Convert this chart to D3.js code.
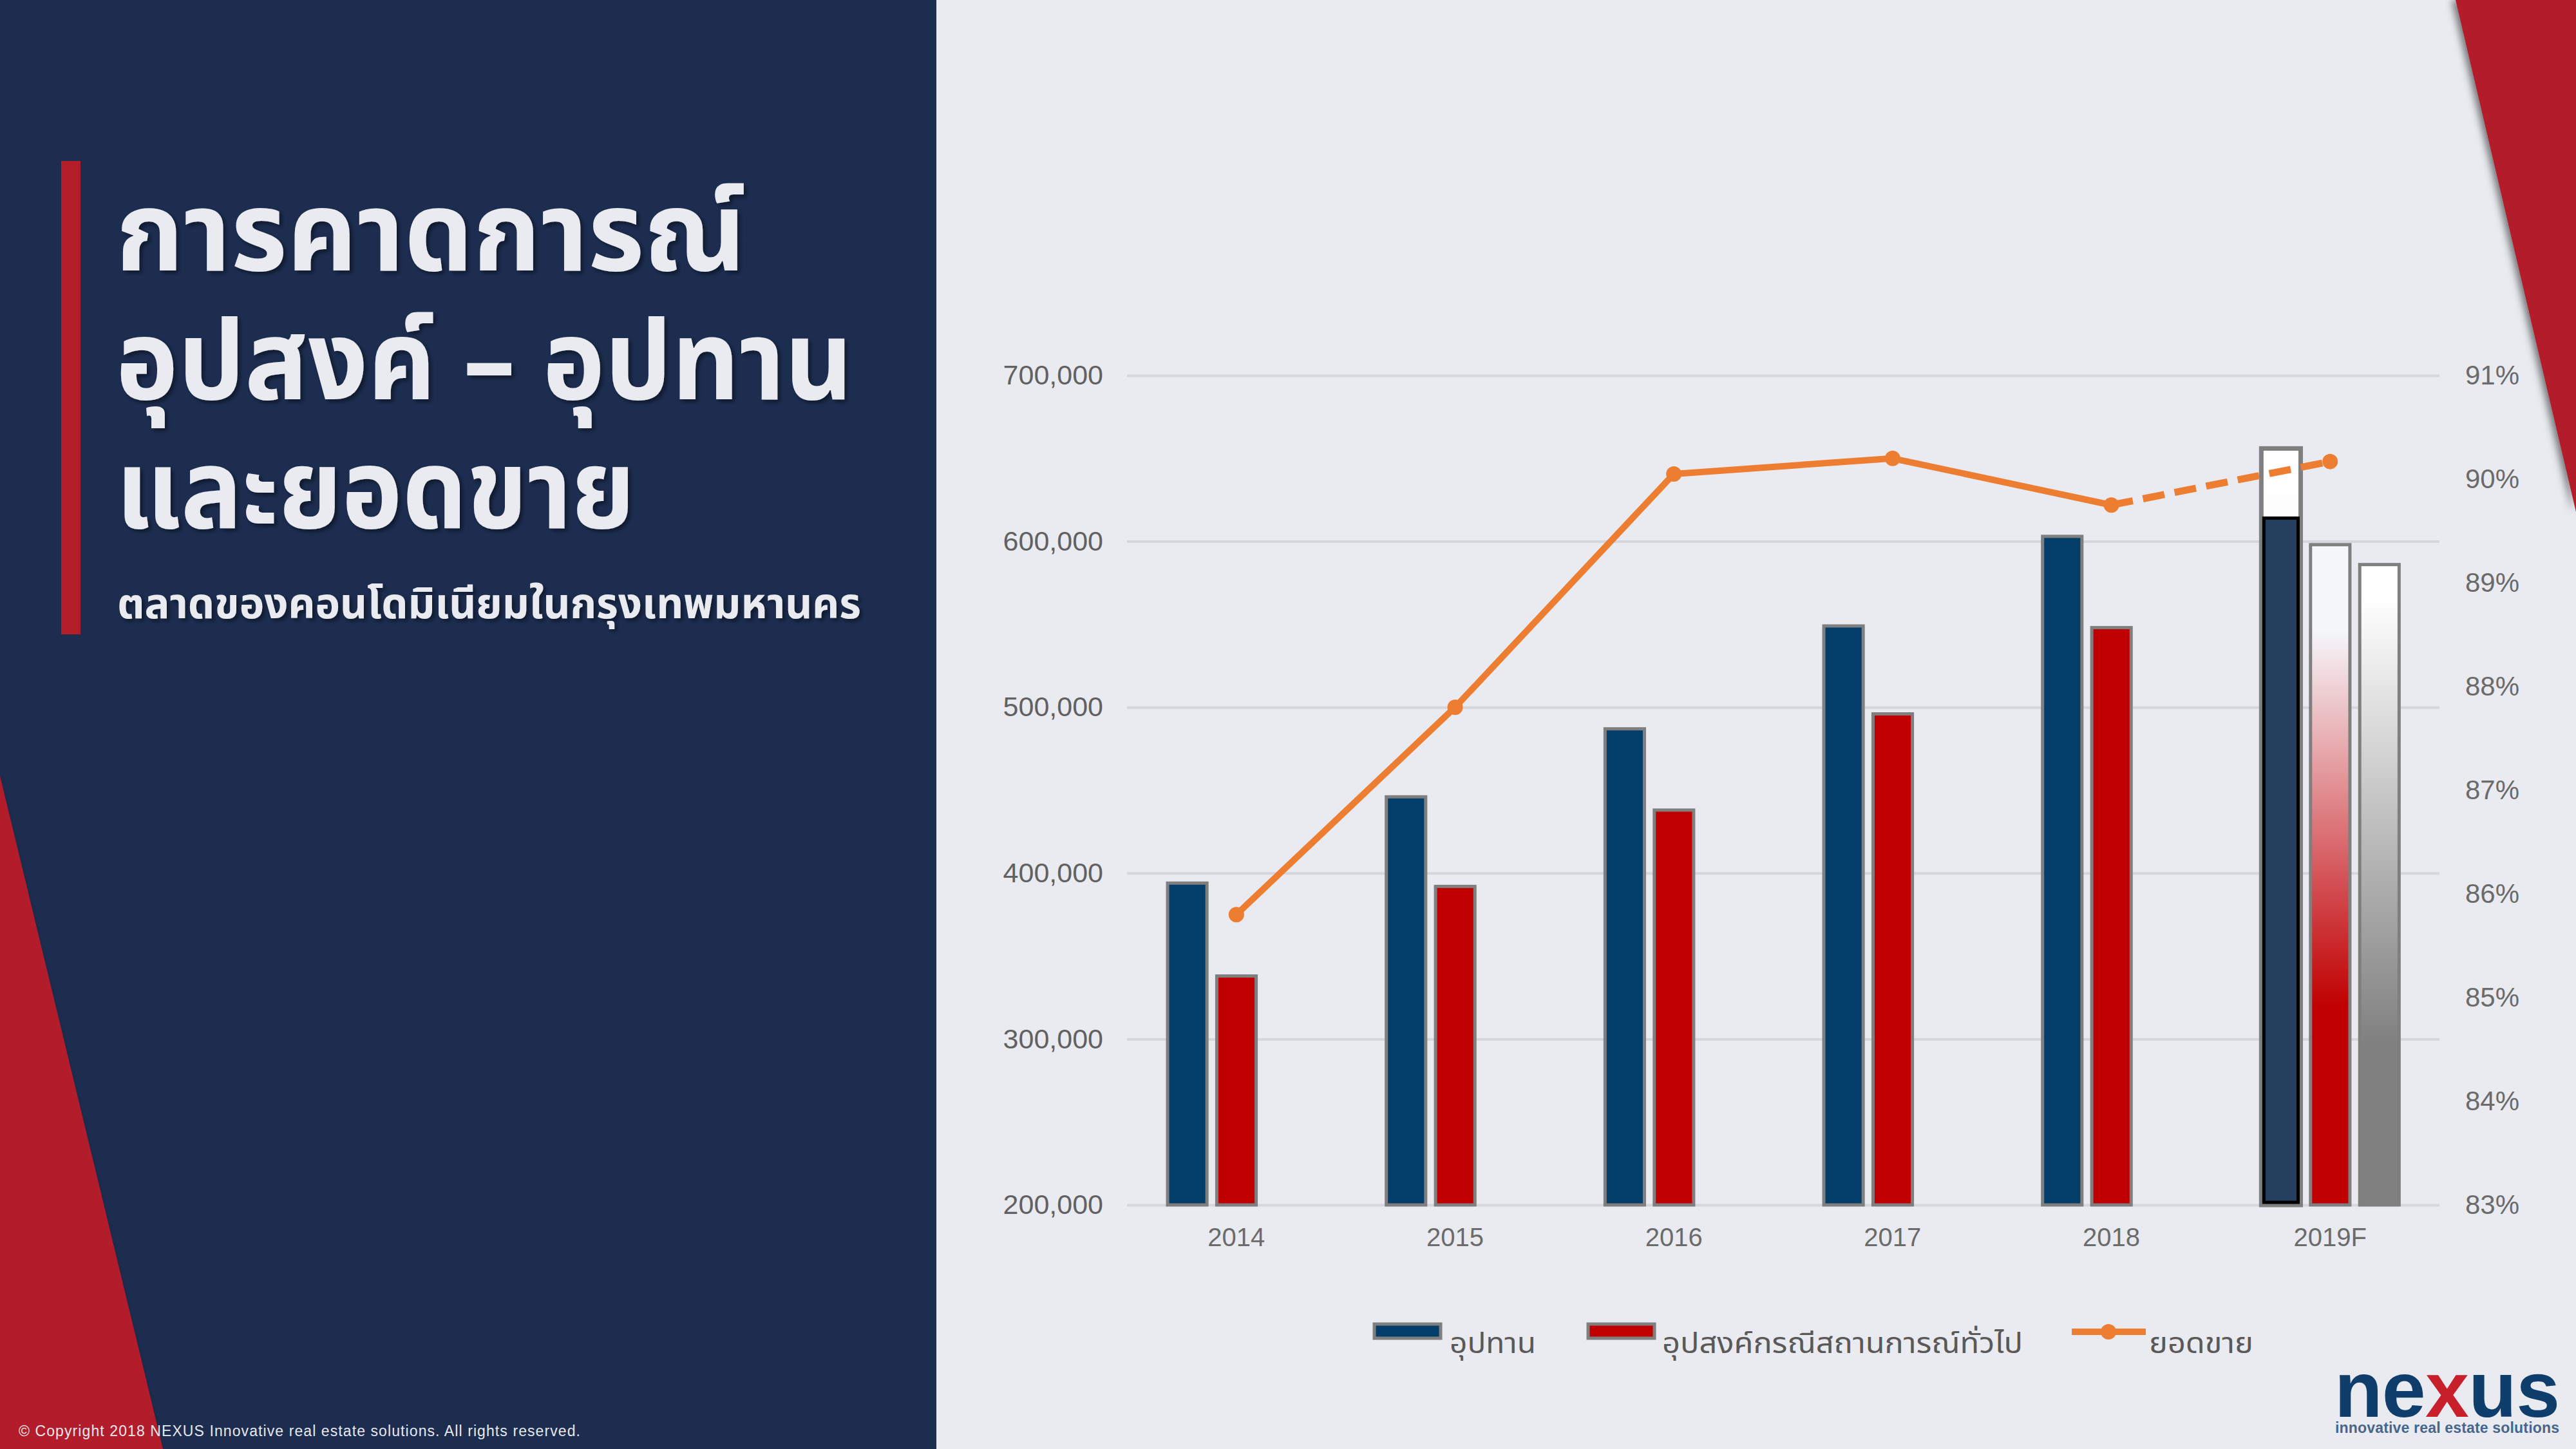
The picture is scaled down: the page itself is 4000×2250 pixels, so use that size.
<!DOCTYPE html>
<html>
<head>
<meta charset="utf-8">
<script src="https://cdn.jsdelivr.net/npm/d3@7"></script>
<style>
  html, body { margin: 0; padding: 0; background: #e9ebf0; }
  svg { display: block; }
</style>
</head>
<body>
<div id="chart"></div>
<script>
// data
const years = ['2014', '2015', '2016', '2017', '2018', '2019F'];
const supply = [394000, 446000, 487000, 549000, 603000, 614000];
const supplyHigh = [null, null, null, null, null, 656000];
const demand = [338000, 392000, 438000, 496000, 548000, 598000];
const demandLow = [null, null, null, null, null, 586000];
const salesRate = [85.8, 87.8, 90.05, 90.2, 89.75, 90.17];
const leftTicks = [200000, 300000, 400000, 500000, 600000, 700000];
const rightTicks = [83, 84, 85, 86, 87, 88, 89, 90, 91];
const legendLabels = ['อุปทาน', 'อุปสงค์กรณีสถานการณ์ทั่วไป', 'ยอดขาย'];
const titleLines = ['การคาดการณ์', 'อุปสงค์ – อุปทาน', 'และยอดขาย'];
const subtitle = 'ตลาดของคอนโดมิเนียมในกรุงเทพมหานคร';

const w = 4000;
const h = 2250;
const thai = '"Noto Sans Thai", "Noto Sans", "DejaVu Sans", sans-serif';
const navy = '#1c2d50';
const red = '#b31e29';

const svg = d3.select('#chart')
  .append('svg')
  .attr('width', w)
  .attr('height', h);

const defs = svg.append('defs');

const shadow = defs.append('filter').attr('id', 'txtShadow')
  .attr('x', '-5%').attr('y', '-5%').attr('width', '110%').attr('height', '120%');
shadow.append('feDropShadow')
  .attr('dx', 4).attr('dy', 4).attr('stdDeviation', 3)
  .attr('flood-color', '#000').attr('flood-opacity', 0.45);

const edgeShadow = defs.append('filter').attr('id', 'edgeShadow')
  .attr('x', '-20%').attr('y', '-20%').attr('width', '140%').attr('height', '140%');
edgeShadow.append('feDropShadow')
  .attr('dx', -6).attr('dy', 0).attr('stdDeviation', 6)
  .attr('flood-color', '#000').attr('flood-opacity', 0.5);

const redGrad = defs.append('linearGradient').attr('id', 'redGrad')
  .attr('x1', 0).attr('y1', 0).attr('x2', 0).attr('y2', 1);
[[0, '#f5f7fb'], [0.13, '#f5f7fb'], [0.32, '#e6a4a8'], [0.52, '#d24c50'], [0.7, '#c00000'], [1, '#c00000']]
  .forEach(s => redGrad.append('stop').attr('offset', s[0]).attr('stop-color', s[1]));

const greyGrad = defs.append('linearGradient').attr('id', 'greyGrad')
  .attr('x1', 0).attr('y1', 0).attr('x2', 0).attr('y2', 1);
[[0, '#ffffff'], [0.05, '#ffffff'], [0.75, '#808080'], [1, '#808080']]
  .forEach(s => greyGrad.append('stop').attr('offset', s[0]).attr('stop-color', s[1]));

const whiteGrad = defs.append('linearGradient').attr('id', 'whiteGrad')
  .attr('x1', 0).attr('y1', 0).attr('x2', 0).attr('y2', 1);
[[0, '#ffffff'], [1, '#e8ecf3']]
  .forEach(s => whiteGrad.append('stop').attr('offset', s[0]).attr('stop-color', s[1]));

// background panels
svg.append('rect').attr('width', w).attr('height', h).attr('fill', '#e9ebf0');
svg.append('rect').attr('width', 1454).attr('height', h).attr('fill', navy);
svg.append('path')
  .attr('d', 'M0,1205 L253,2250 L0,2250 Z')
  .attr('fill', red)
  .attr('filter', 'url(#edgeShadow)');
svg.append('path')
  .attr('d', 'M3813,0 L4000,0 L4000,795 Z')
  .attr('fill', red)
  .attr('filter', 'url(#edgeShadow)');

// title block
svg.append('rect').attr('x', 95).attr('y', 250).attr('width', 30).attr('height', 735).attr('fill', red);

const titleW = [978, 1144, 806];
const title = svg.append('text')
  .attr('fill', '#e9ebf0')
  .attr('filter', 'url(#txtShadow)')
  .style('font-family', thai)
  .style('font-weight', 700)
  .style('font-size', '172px');
title.selectAll('tspan')
  .data(titleLines)
  .enter()
  .append('tspan')
  .attr('x', 180)
  .attr('y', (d, i) => 420 + i * 200)
  .attr('textLength', (d, i) => titleW[i])
  .attr('lengthAdjust', 'spacingAndGlyphs')
  .text(d => d);

svg.append('text')
  .attr('x', 182)
  .attr('y', 960)
  .attr('fill', '#e9ebf0')
  .attr('filter', 'url(#txtShadow)')
  .attr('textLength', 1155)
  .attr('lengthAdjust', 'spacingAndGlyphs')
  .style('font-family', thai)
  .style('font-weight', 700)
  .style('font-size', '65px')
  .text(subtitle);

svg.append('text')
  .attr('x', 29)
  .attr('y', 2230)
  .attr('fill', '#e6e8ee')
  .attr('textLength', 872)
  .style('font-family', '"Liberation Sans", Arial, sans-serif')
  .style('font-size', '23px')
  .text('© Copyright 2018 NEXUS Innovative real estate solutions. All rights reserved.');

// chart
const plotLeft = 1750;
const plotRight = 3788;
const plotTop = 583;
const plotBottom = 1871;

const x0 = d3.scaleBand()
  .domain(years)
  .range([plotLeft, plotRight])
  .padding(0);

const x1 = d3.scaleBand()
  .domain(['supply', 'demand', 'low'])
  .range([63, 277])
  .paddingInner(0.2)
  .paddingOuter(0);

const yLeft = d3.scaleLinear()
  .domain([200000, 700000])
  .range([plotBottom, plotTop]);

const yRight = d3.scaleLinear()
  .domain([83, 91])
  .range([plotBottom, plotTop]);

const tickFont = '"Liberation Sans", Arial, sans-serif';

const yAxisL = d3.axisLeft(yLeft)
  .tickValues(leftTicks)
  .tickSize(-(plotRight - plotLeft))
  .tickPadding(37)
  .tickFormat(d3.format(','));

const gL = svg.append('g')
  .attr('id', 'y-axis')
  .attr('transform', 'translate(' + plotLeft + ',0)')
  .call(yAxisL);
gL.select('.domain').remove();
gL.selectAll('line').attr('stroke', '#d5d7dc').attr('stroke-width', 4);
gL.selectAll('text')
  .attr('fill', '#616161')
  .style('font-family', tickFont)
  .style('font-size', '43px');

const yAxisR = d3.axisRight(yRight)
  .tickValues(rightTicks)
  .tickSize(0)
  .tickPadding(40)
  .tickFormat(d => d + '%');

const gR = svg.append('g')
  .attr('id', 'y-axis-right')
  .attr('transform', 'translate(' + plotRight + ',0)')
  .call(yAxisR);
gR.select('.domain').remove();
gR.selectAll('text')
  .attr('fill', '#6b6b6b')
  .style('font-family', tickFont)
  .style('font-size', '42px');

const xAxis = d3.axisBottom(x0).tickSize(0).tickPadding(36);
const gX = svg.append('g')
  .attr('id', 'x-axis')
  .attr('transform', 'translate(0,' + plotBottom + ')')
  .call(xAxis);
gX.select('.domain').remove();
gX.selectAll('text')
  .attr('fill', '#6b6b6b')
  .style('font-family', tickFont)
  .style('font-size', '40px');

const barW = x1.bandwidth();

// supply bars (2019F drawn separately below)
svg.selectAll('rect.supply')
  .data(years.map((y, i) => ({ year: y, v: supply[i], i })).filter(d => supplyHigh[d.i] == null))
  .enter()
  .append('rect')
  .attr('class', 'supply')
  .attr('x', d => x0(d.year) + x1('supply'))
  .attr('y', d => yLeft(d.v))
  .attr('width', barW)
  .attr('height', d => plotBottom - yLeft(d.v))
  .attr('fill', '#023e69')
  .attr('stroke', '#7f7f7f')
  .attr('stroke-width', 5);

// 2019F supply: range up to the high estimate
const fc = years.map((y, i) => ({ year: y, v: supply[i], hi: supplyHigh[i] })).filter(d => d.hi != null);
svg.selectAll('rect.supplyHigh')
  .data(fc)
  .enter()
  .append('rect')
  .attr('class', 'supplyHigh')
  .attr('x', d => x0(d.year) + x1('supply'))
  .attr('y', d => yLeft(d.hi))
  .attr('width', barW)
  .attr('height', d => plotBottom - yLeft(d.hi))
  .attr('fill', 'url(#whiteGrad)')
  .attr('stroke', '#7f7f7f')
  .attr('stroke-width', 7);
svg.selectAll('rect.supplyBase')
  .data(fc)
  .enter()
  .append('rect')
  .attr('class', 'supplyBase')
  .attr('x', d => x0(d.year) + x1('supply') + 4)
  .attr('y', d => yLeft(d.v))
  .attr('width', barW - 8)
  .attr('height', d => plotBottom - yLeft(d.v) - 4)
  .attr('fill', '#25405f')
  .attr('stroke', '#000')
  .attr('stroke-width', 5);

// demand bars
svg.selectAll('rect.demand')
  .data(years.map((y, i) => ({ year: y, v: demand[i], i })))
  .enter()
  .append('rect')
  .attr('class', 'demand')
  .attr('x', d => x0(d.year) + x1('demand'))
  .attr('y', d => yLeft(d.v))
  .attr('width', barW)
  .attr('height', d => plotBottom - yLeft(d.v))
  .attr('fill', d => d.i === years.length - 1 ? 'url(#redGrad)' : '#c00000')
  .attr('stroke', '#7f7f7f')
  .attr('stroke-width', 5);

// low-case demand (forecast only)
svg.selectAll('rect.low')
  .data(years.map((y, i) => ({ year: y, v: demandLow[i] })).filter(d => d.v != null))
  .enter()
  .append('rect')
  .attr('class', 'low')
  .attr('x', d => x0(d.year) + x1('low'))
  .attr('y', d => yLeft(d.v))
  .attr('width', barW)
  .attr('height', d => plotBottom - yLeft(d.v))
  .attr('fill', 'url(#greyGrad)')
  .attr('stroke', '#7f7f7f')
  .attr('stroke-width', 5);

// sales line
const pts = years.map((y, i) => [x0(y) + x0.bandwidth() / 2, yRight(salesRate[i])]);
const line = d3.line();
const orange = '#ed7d31';

svg.append('path')
  .attr('d', line(pts.slice(0, 5)))
  .attr('fill', 'none')
  .attr('stroke', orange)
  .attr('stroke-width', 10)
  .attr('stroke-linejoin', 'round');
svg.append('path')
  .attr('d', line(pts.slice(4)))
  .attr('fill', 'none')
  .attr('stroke', orange)
  .attr('stroke-width', 11)
  .attr('stroke-dasharray', '34,16');

svg.selectAll('circle.sales')
  .data(pts)
  .enter()
  .append('circle')
  .attr('class', 'sales')
  .attr('cx', d => d[0])
  .attr('cy', d => d[1])
  .attr('r', 12)
  .attr('fill', orange);

// legend
const legend = svg.append('g').attr('id', 'legend');
const legendX = [2134, 2466, 3217];
legend.selectAll('rect')
  .data(['#023e69', '#c00000'])
  .enter()
  .append('rect')
  .attr('x', (d, i) => legendX[i])
  .attr('y', 2056)
  .attr('width', 103)
  .attr('height', 22)
  .attr('fill', d => d)
  .attr('stroke', '#7f7f7f')
  .attr('stroke-width', 5);
legend.append('line')
  .attr('x1', legendX[2]).attr('x2', legendX[2] + 115)
  .attr('y1', 2068).attr('y2', 2068)
  .attr('stroke', orange).attr('stroke-width', 10);
legend.append('circle')
  .attr('cx', legendX[2] + 57).attr('cy', 2068).attr('r', 12).attr('fill', orange);
const legendW = [134, 560, 162];
legend.selectAll('text')
  .data(legendLabels)
  .enter()
  .append('text')
  .attr('x', (d, i) => [2251, 2581, 3337][i])
  .attr('y', 2101)
  .attr('fill', '#595959')
  .attr('textLength', (d, i) => legendW[i])
  .attr('lengthAdjust', 'spacingAndGlyphs')
  .style('font-family', thai)
  .style('font-size', '45px')
  .text(d => d);

// logo (one text element, two lines)
const logo = svg.append('text')
  .style('font-family', '"Liberation Sans", Arial, sans-serif')
  .style('font-weight', 700);
const word = logo.append('tspan')
  .attr('x', 3625)
  .attr('y', 2200)
  .attr('textLength', 350)
  .style('font-size', '122px');
word.append('tspan').attr('fill', '#0f3d6c').text('ne');
word.append('tspan').attr('fill', '#c8202a').text('x');
word.append('tspan').attr('fill', '#0f3d6c').text('us');
logo.append('tspan')
  .attr('x', 3626)
  .attr('y', 2225)
  .attr('textLength', 348)
  .attr('fill', '#46668c')
  .style('font-size', '23px')
  .text('innovative real estate solutions');
</script>
</body>
</html>
